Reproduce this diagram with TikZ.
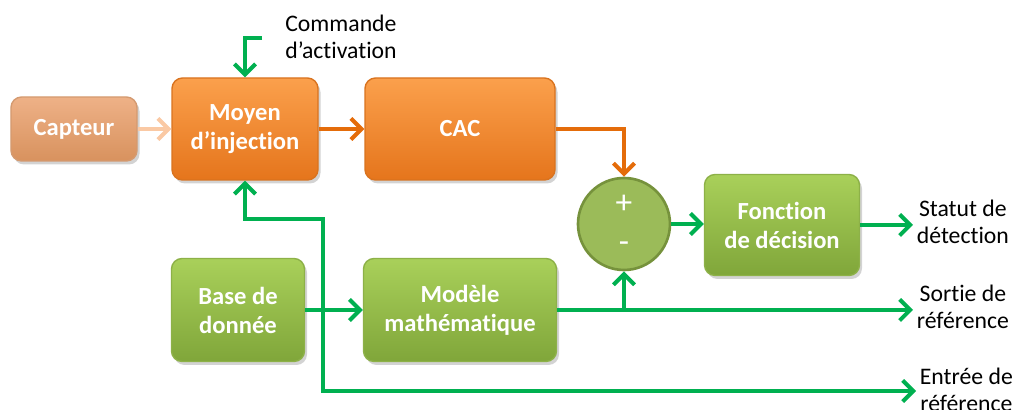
\documentclass[tikz,border=0pt]{standalone}
\usepackage{fontspec}
\setmainfont{Carlito}[Ligatures={TeX,NoCommon}]
\usetikzlibrary{arrows.meta,shadows}

\definecolor{orhaut}{HTML}{FBA04C}
\definecolor{orbas}{HTML}{E5751C}
\definecolor{orbord}{HTML}{D9731F}
\definecolor{pehaut}{HTML}{EEB187}
\definecolor{pebas}{HTML}{D8925E}
\definecolor{pebord}{HTML}{D49A70}
\definecolor{vehaut}{HTML}{A9D05A}
\definecolor{vebas}{HTML}{80A63A}
\definecolor{vebord}{HTML}{8DB148}
\definecolor{rond}{HTML}{9BBB59}
\definecolor{rondbord}{HTML}{76923C}
\definecolor{flvert}{HTML}{00B050}
\definecolor{florange}{HTML}{E46C0A}
\definecolor{flpeche}{HTML}{FAC9A4}

\begin{document}
\begin{tikzpicture}[
  every node/.style={font=\fontsize{13.5}{15.5}\selectfont},
  bloc/.style={rounded corners=6pt, align=center, text=white, line width=0.8pt,
    font=\fontsize{14}{16.5}\selectfont\bfseries,
    drop shadow={opacity=0.35, shadow xshift=0.05cm, shadow yshift=-0.07cm}},
  blocorange/.style={bloc, draw=orbord, top color=orhaut, bottom color=orbas},
  blocpeche/.style={bloc, draw=pebord, top color=pehaut, bottom color=pebas},
  blocvert/.style={bloc, draw=vebord, top color=vehaut, bottom color=vebas},
  sortie/.style={anchor=west, align=center, inner sep=2pt},
  fl/.style={line width=2.3pt, -{Straight Barb[length=6pt,width=12pt]}},
]
  \useasboundingbox (0,0) rectangle (20.28,8.2);

  % Blocs
  \node[blocpeche, minimum width=2.52cm, minimum height=1.28cm] (capteur) at (1.48,5.62) {Capteur};
  \node[blocorange, minimum width=2.92cm, minimum height=2.04cm] (moyen) at (4.90,5.62) {Moyen\\d’injection};
  \node[blocorange, minimum width=3.80cm, minimum height=2.04cm] (cac) at (9.20,5.62) {CAC};
  \node[blocvert, minimum width=2.66cm, minimum height=2.06cm] (base) at (4.76,2.00) {Base de\\donnée};
  \node[blocvert, minimum width=3.86cm, minimum height=2.06cm] (modele) at (9.20,2.00) {Modèle\\mathématique};
  \node[blocvert, minimum width=3.10cm, minimum height=2.02cm] (decision) at (15.64,3.70) {Fonction\\de décision};
  \node[circle, draw=rondbord, line width=1.5pt, fill=rond, minimum size=1.84cm,
    align=center, text=white, font=\fontsize{19}{19}\selectfont] (somme) at (12.48,3.72) {+\\[3pt]-};

  % Textes
  \node[anchor=west, align=left, inner sep=0pt] (commande) at (5.70,7.46) {Commande\\d’activation};
  \node[sortie] (statut) at (18.26,3.76) {Statut de\\détection};
  \node[sortie] (reference) at (18.26,2.06) {Sortie de\\référence};
  \node[sortie] (entree) at (18.32,0.40) {Entrée de\\référence};

  \coordinate (cmd) at (5.24,7.44);
  \coordinate (coinhaut) at (6.46,3.82);
  \coordinate (coinbas) at (6.46,0.38);

  % Liaisons
  \draw[fl, flpeche] (capteur) -- (moyen);
  \draw[fl, florange] (moyen) -- (cac);
  \draw[fl, florange] (cac.east) -| (somme.north);
  \draw[fl, flvert] (cmd) -| (moyen.north);
  \draw[fl, flvert] (somme.east) -- (somme.east -| decision.west);
  \draw[fl, flvert] (decision.east) -- (decision.east -| statut.west);
  \draw[fl, flvert] (base) -- (modele);
  \draw[fl, flvert] (modele.east) -- (modele.east -| reference.west);
  \draw[fl, flvert] (modele.east -| somme.south) -- (somme.south);
  \draw[fl, flvert, {Straight Barb[length=6pt,width=12pt]}-{Straight Barb[length=6pt,width=12pt]}]
    (moyen.south) |- (coinhaut) -- (coinbas) -- (coinbas -| entree.west);
\end{tikzpicture}
\end{document}
